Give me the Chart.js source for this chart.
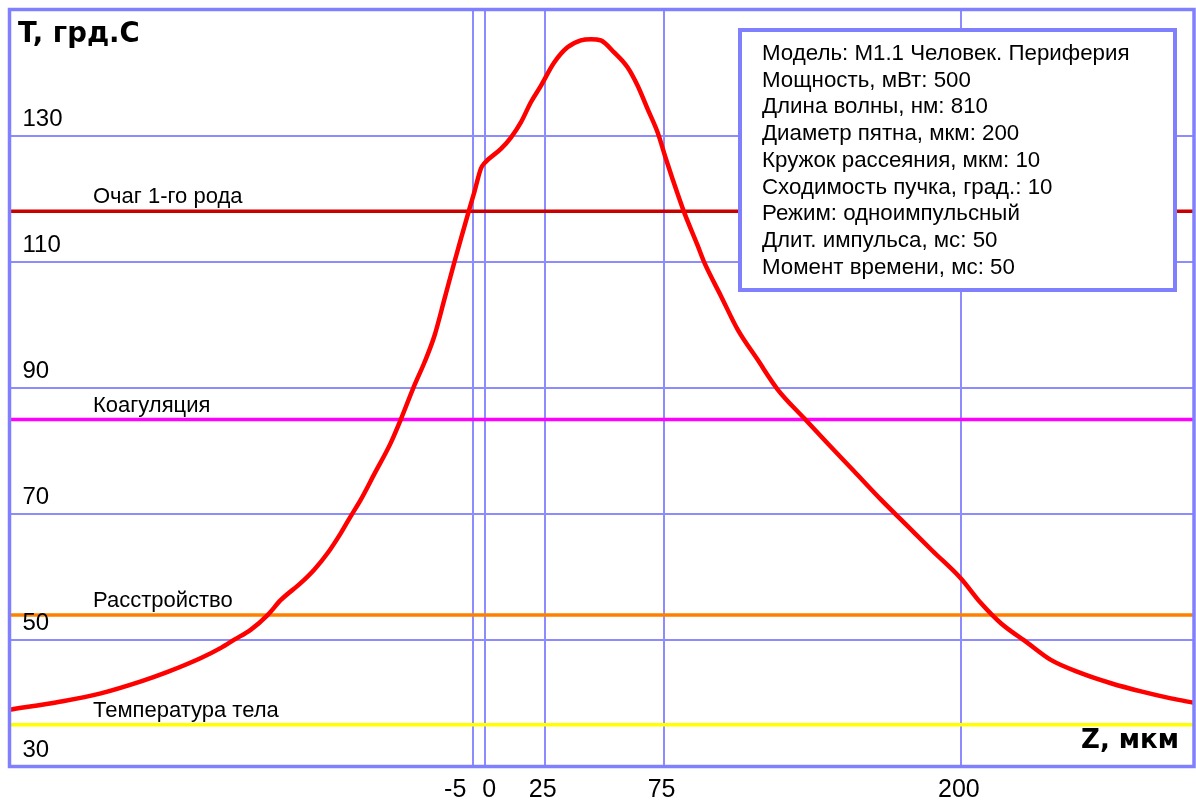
<!DOCTYPE html>
<html>
<head>
<meta charset="utf-8">
<script src="https://cdn.jsdelivr.net/npm/chart.js@4/dist/chart.umd.min.js"></script>
<style>
  html, body { margin: 0; padding: 0; background: #ffffff; }
  canvas { display: block; }
</style>
</head>
<body>
<canvas id="c" width="1196" height="804"></canvas>
<script>
// ---- data ----
const zValues = [-200,-178.4,-161.6,-144.7,-133.5,-119.5,-111.1,-105.5,-98.5,-91.5,-85.9,-77.5,-71.9,-66.3,-60.7,-56.5,-52.3,-46.7,-39.7,-35.5,-29.9,-25.6,-21.4,-17.2,-13.0,-9.5,-6.7,-4.6,-1.8,-0.4,6.6,10.8,15,19.2,23.4,29,34.6,40.2,44.4,48.6,54.2,59.9,64.1,68.3,72.5,76,78.8,83.7,89.3,92.1,99.1,106.1,114.5,122.9,134.1,144,155.1,166.4,177.6,188,200,208.4,216.8,228,237.8,250.5,263.1,275.7,288.3,298];
const tValues = [39.0,40.3,41.6,43.5,45.0,47.2,48.8,50.1,51.7,54.0,56.4,59.1,61.2,63.8,67.0,69.7,72.3,76.3,81.3,85.0,90.3,94.0,98.2,104.0,109.9,114.6,118.3,121.0,124.8,125.6,127.9,129.7,132.1,135.3,137.9,141.6,144.0,145.1,145.3,145.1,143.2,140.8,137.9,134.2,130.5,126.3,123.1,117.8,112.6,109.9,104.6,99.3,94.5,89.8,85.2,81.2,76.8,72.3,68.1,64.2,59.8,55.9,52.7,49.6,46.9,44.8,43.2,41.9,40.8,40.1];

const thresholdNames = ['Очаг 1-го рода', 'Коагуляция', 'Расстройство', 'Температура тела'];
const thresholdValues = [118, 85, 54, 36.6];
const thresholdColors = ['#c80000', '#ff00ff', '#ff8000', '#ffff00'];

const xTickValues = [-5, 0, 25, 75, 200];
const yTickLabels = [130, 110, 90, 70, 50, 30];
const xRange = [-200, 298];
const yRange = [30, 150];

const yTitle = 'T, грд.С';
const xTitle = 'Z, мкм';
const infoLines = [
  'Модель: М1.1 Человек. Периферия',
  'Мощность, мВт: 500',
  'Длина волны, нм: 810',
  'Диаметр пятна, мкм: 200',
  'Кружок рассеяния, мкм: 10',
  'Сходимость пучка, град.: 10',
  'Режим: одноимпульсный',
  'Длит. импульса, мс: 50',
  'Момент времени, мс: 50'
];

// ---- style ----
const GRID = '#8c8cff';
const FRAME = '#8080ff';
const FONT = '"Liberation Sans", Arial, sans-serif';
const BOLD_FONT = '"DejaVu Sans", "Liberation Sans", sans-serif';

const datasets = [];
thresholdValues.forEach((v, i) => {
  datasets.push({
    data: [{x: xRange[0], y: v}, {x: xRange[1], y: v}],
    borderColor: thresholdColors[i],
    borderWidth: 3.5,
    pointRadius: 0,
    order: 2
  });
});
datasets.push({
  data: zValues.map((z, i) => ({x: z, y: tValues[i]})),
  borderColor: '#ff0000',
  borderWidth: 4.5,
  pointRadius: 0,
  cubicInterpolationMode: 'monotone',
  order: 1
});

const decor = {
  id: 'decor',
  afterDatasetsDraw(chart) {
    const ctx = chart.ctx;
    const a = chart.chartArea;
    const xs = chart.scales.x, ys = chart.scales.y;
    ctx.save();
    // frame
    ctx.strokeStyle = FRAME;
    ctx.lineWidth = 3.5;
    ctx.strokeRect(a.left, a.top, a.right - a.left, a.bottom - a.top);

    ctx.fillStyle = '#000';
    ctx.textBaseline = 'alphabetic';
    // threshold labels
    ctx.font = '22px ' + FONT;
    ctx.textAlign = 'left';
    thresholdNames.forEach((n, i) => {
      ctx.fillText(n, 93, ys.getPixelForValue(thresholdValues[i]) - 8);
    });
    // y labels inside plot
    ctx.font = '24px ' + FONT;
    yTickLabels.forEach(v => {
      ctx.fillText(String(v), a.left + 13, ys.getPixelForValue(v) - 10);
    });
    // x labels below
    ctx.font = '25px ' + FONT;
    const px = xTickValues.map(v => xs.getPixelForValue(v));
    xTickValues.forEach((v, i) => {
      const p = px[i];
      if (i + 1 < px.length && px[i + 1] - p < 30) {
        ctx.textAlign = 'right';
        ctx.fillText(String(v), p - 7, 797);
      } else if (i > 0 && p - px[i - 1] < 30) {
        ctx.textAlign = 'left';
        ctx.fillText(String(v), p - 3, 797);
      } else {
        ctx.textAlign = 'center';
        ctx.fillText(String(v), p - 2, 797);
      }
    });
    // axis titles
    ctx.font = 'bold 27.5px ' + BOLD_FONT;
    ctx.textAlign = 'left';
    ctx.fillText(yTitle, 18, 42);
    ctx.font = 'bold 26px ' + BOLD_FONT;
    ctx.textAlign = 'right';
    ctx.fillText(xTitle, 1179, 748);

    // info box
    const bx = 740, by = 30, bw = 435, bh = 260;
    ctx.fillStyle = '#fff';
    ctx.fillRect(bx, by, bw, bh);
    ctx.strokeStyle = FRAME;
    ctx.lineWidth = 4;
    ctx.strokeRect(bx, by, bw, bh);
    ctx.fillStyle = '#000';
    ctx.font = '22.3px ' + FONT;
    ctx.textAlign = 'left';
    infoLines.forEach((t, i) => ctx.fillText(t, 762, 60 + i * 26.7));
    ctx.restore();
  }
};

new Chart(document.getElementById('c'), {
  type: 'line',
  data: { datasets },
  options: {
    responsive: false,
    animation: false,
    devicePixelRatio: 1,
    layout: { padding: { left: 9.5, top: 9.5, right: 2, bottom: 37.5 } },
    plugins: { legend: { display: false }, tooltip: { enabled: false } },
    scales: {
      x: {
        type: 'linear',
        min: xRange[0], max: xRange[1],
        afterBuildTicks: s => { s.ticks = xTickValues.map(v => ({value: v})); },
        afterFit: s => { s.height = 0; },
        ticks: { display: false },
        grid: { color: GRID, lineWidth: 2, drawTicks: false },
        border: { display: false }
      },
      y: {
        type: 'linear',
        min: yRange[0], max: yRange[1],
        ticks: { display: false, stepSize: 20 },
        afterFit: s => { s.width = 0; },
        grid: { color: GRID, lineWidth: 2, drawTicks: false },
        border: { display: false }
      }
    }
  },
  plugins: [decor]
});
</script>
</body>
</html>
